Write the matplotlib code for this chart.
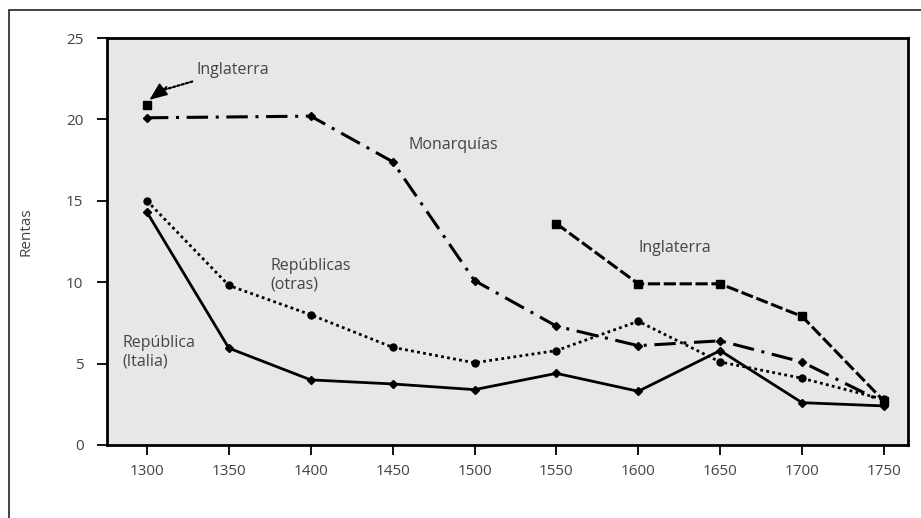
import numpy as np
import matplotlib.pyplot as plt
from matplotlib.patches import Rectangle

plt.rcParams['font.family'] = ['Open Sans', 'DejaVu Sans']

years = [1300, 1350, 1400, 1450, 1500, 1550, 1600, 1650, 1700, 1750]
nan = np.nan
monarquias = [20.1, nan, 20.2, 17.4, 10.1, 7.3, 6.1, 6.4, 5.1, 2.6]
inglaterra = [20.9, nan, nan, nan, nan, 13.6, 9.9, 9.9, 7.9, 2.7]
otras = [15.0, 9.8, 8.0, 6.0, 5.05, 5.8, 7.6, 5.1, 4.1, 2.8]
italia = [14.3, 5.95, 4.0, 3.75, 3.4, 4.4, 3.3, 5.8, 2.6, 2.4]

txt = '#444444'

fig = plt.figure(figsize=(9.21, 5.18), dpi=100)
ax = fig.add_axes([107/921, 1-445/518, 801/921, 407/518])
ax.set_facecolor('#e6e7e8')

# outer frame
fig.patches.append(Rectangle((8.5/921, -0.1), 1.2, 1 - 10/518 + 0.1, transform=fig.transFigure,
                             fill=False, edgecolor='#222222', linewidth=1.2))

yr = np.array(years)
m = np.array(monarquias)
ok = ~np.isnan(m)
ax.plot(yr[ok], m[ok], color='black', lw=2.2, linestyle=(0, (7, 2.5, 1, 2.5)),
        marker='D', markersize=4.5)
ax.plot(yr, inglaterra, color='black', lw=2.2, linestyle=(0, (4, 1.2)),
        marker='s', markersize=5.5)
ax.plot(yr, otras, color='black', lw=2, linestyle=(0, (1, 1.2)),
        marker='o', markersize=5)
ax.plot(yr, italia, color='black', lw=2, linestyle='-',
        marker='D', markersize=4.5)

fs = 11.5
# label with dotted leader and solid arrow head
ax.annotate('Inglaterra', xy=(1308, 21.75), xytext=(1330.5, 23.06),
            fontsize=fs, color=txt, va='center', ha='left',
            arrowprops=dict(arrowstyle='-', color='black',
                            linestyle=(0, (1, 1)), lw=1.6, shrinkA=3, shrinkB=0))
ax.annotate('', xy=(1301.5, 21.2), xytext=(1312, 22.0),
            arrowprops=dict(arrowstyle='-|>,head_length=1.1,head_width=0.45', color='black',
                            lw=1.2, shrinkA=0, shrinkB=0))
ax.text(1460, 18.45, 'Monarquías', fontsize=fs, color=txt, va='center')
ax.text(1600, 12.1, 'Inglaterra', fontsize=fs, color=txt, va='center')
ax.text(1375.5, 10.4, 'Repúblicas\n(otras)', fontsize=fs, color=txt, va='center',
        linespacing=1.2)
ax.text(1285, 5.72, 'República\n(Italia)', fontsize=fs, color=txt, va='center',
        linespacing=1.2)

ax.set_xlim(1275.6, 1764.7)
ax.set_ylim(0, 25)
ax.set_xticks(years)
ax.set_yticks([0, 5, 10, 15, 20, 25])
ax.tick_params(axis='both', direction='out', length=7, width=1.3, color='black',
               labelsize=11, labelcolor=txt)
ax.tick_params(axis='y', pad=10)
ax.tick_params(axis='x', pad=7)
for s in ax.spines.values():
    s.set_linewidth(2)
    s.set_color('black')

ax.set_ylabel('Rentas', fontsize=11, color=txt)
ax.yaxis.set_label_coords(-0.092, 0.523)

fig.savefig('out.png', dpi=100)
